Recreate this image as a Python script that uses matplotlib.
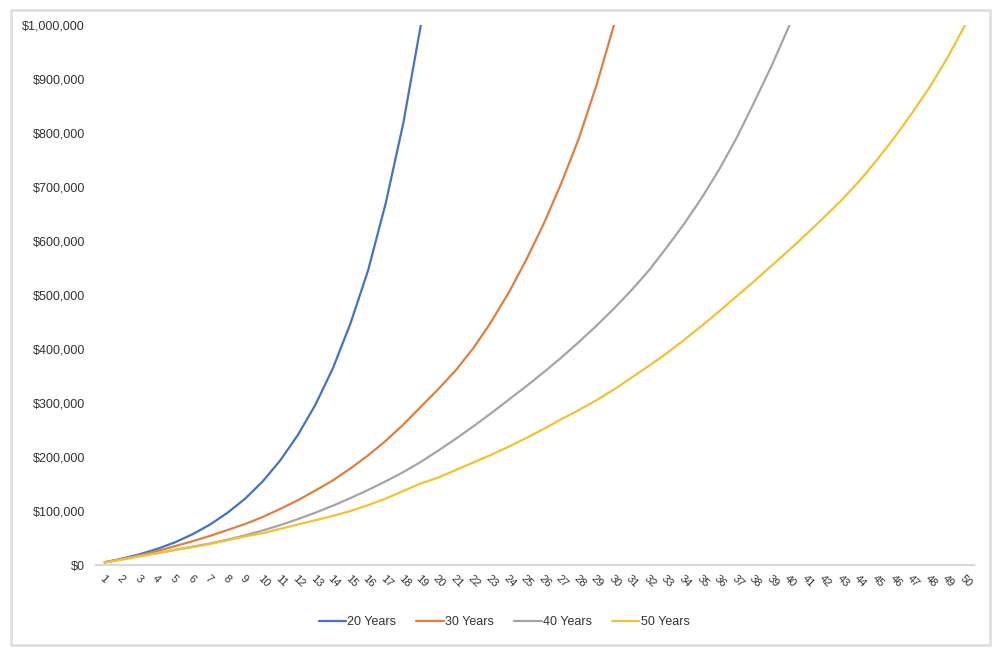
import matplotlib.pyplot as plt
from matplotlib.patches import Rectangle
from matplotlib.ticker import FuncFormatter

plt.rcParams['font.family'] = ['Liberation Sans', 'DejaVu Sans']

years = list(range(1, 51))

# values (dollars)
s20 = [5000, 12000, 20000, 30000, 42000, 57000, 75000, 97000, 123000, 155000,
       194000, 241000, 297000, 365000, 448000, 546000, 670000, 818000, 1000000]
s30 = [5000, 11000, 18000, 26000, 35000, 44000, 54000, 65000, 76000, 89000,
       104000, 120000, 138000, 157000, 179000, 203000, 230000, 260000, 293000, 326000,
       361000, 402000, 450000, 504000, 565000, 632000, 707000, 790000, 888000, 1000000]
s40 = [5000, 11000, 17000, 22000, 28000, 34000, 40000, 47000, 55000, 64000,
       74000, 85000, 97000, 110000, 124000, 139000, 155000, 172000, 191000, 212000,
       234000, 257000, 281000, 306000, 331000, 357000, 384000, 413000, 443000, 475000,
       509000, 546000, 588000, 632000, 680000, 733000, 792000, 858000, 926000, 1000000]
s50 = [5000, 10000, 16000, 22000, 28000, 33000, 39000, 46000, 53000, 59000,
       67000, 75000, 83000, 91000, 100000, 111000, 123000, 137000, 151000, 162000,
       176000, 190000, 204000, 219000, 235000, 252000, 270000, 287000, 305000, 325000,
       347000, 369000, 392000, 417000, 443000, 470000, 498000, 526000, 555000, 584000,
       614000, 645000, 677000, 712000, 751000, 793000, 838000, 886000, 940000, 1000000]

series = [("20 Years", s20, "#4472C4"),
          ("30 Years", s30, "#DD8040"),
          ("40 Years", s40, "#A5A5A5"),
          ("50 Years", s50, "#F3C233")]

fig = plt.figure(figsize=(10.02, 6.56), dpi=100)
ax = fig.add_axes([0.0958, 0.1387, 0.8762, 0.8232])

for name, vals, col in series:
    ax.plot(years[:len(vals)], vals, color=col, lw=1.6, label=name,
            solid_capstyle='round', solid_joinstyle='round')

ax.set_xlim(0.5, 50.5)
ax.set_ylim(0, 1000000)
ax.set_yticks(range(0, 1000001, 100000))
ax.yaxis.set_major_formatter(FuncFormatter(lambda v, p: "${:,.0f}".format(v)))
ax.set_xticks(years)
ax.set_xticklabels([str(y) for y in years], rotation=-45, ha='left',
                   rotation_mode='anchor', fontsize=8, color='#333333')
for lab in ax.get_yticklabels():
    lab.set_fontsize(9)
    lab.set_color('#333333')
ax.tick_params(axis='both', length=0)
ax.tick_params(axis='y', pad=8)
ax.tick_params(axis='x', pad=6)

for s in ['top', 'right', 'left']:
    ax.spines[s].set_visible(False)
ax.spines['bottom'].set_color('#d9d9d9')
ax.spines['bottom'].set_linewidth(1.5)

fig.legend(loc='center', bbox_to_anchor=(0.503, 0.052), ncol=4, frameon=False,
           fontsize=9, handlelength=2.2, handletextpad=0.1, columnspacing=1.6,
           labelcolor='#333333')

fig.patches.append(Rectangle((0.011, 0.017), 0.977, 0.968, transform=fig.transFigure,
                             fill=False, edgecolor='#e0e0e0', lw=2))

fig.savefig('out.png', dpi=100)
